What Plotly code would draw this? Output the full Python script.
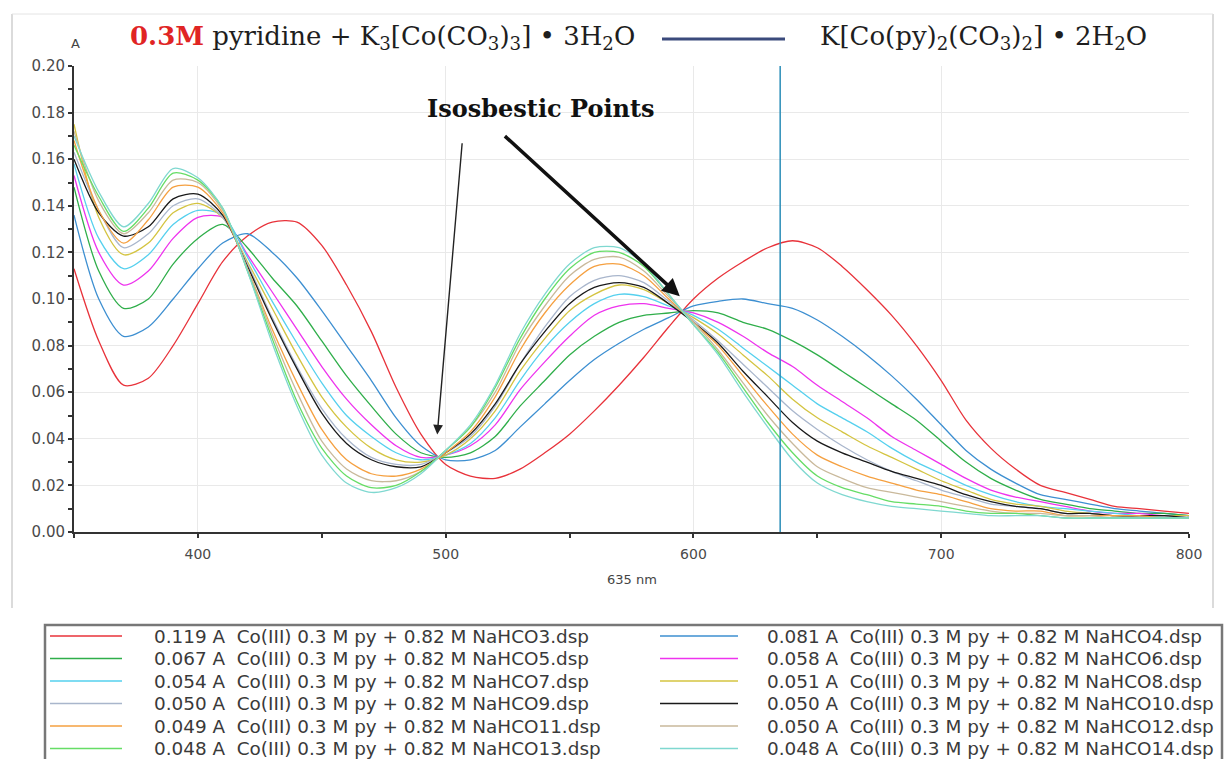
import plotly.graph_objects as go

# Wavelength grid (nm) of the sampled spectra
wavelength_nm = [350, 360, 370, 380, 390, 400, 410, 420, 430, 440, 450, 460, 470, 480, 490, 500,
                 510, 520, 530, 540, 550, 560, 570, 580, 590, 600, 610, 620, 630, 640, 650, 660,
                 670, 680, 690, 700, 710, 720, 730, 740, 750, 760, 770, 780, 790, 800]

# Absorbance of each scan (A)
abs_nahco3 = [0.113, 0.082, 0.063, 0.066, 0.080, 0.098, 0.116, 0.127, 0.133, 0.133, 0.123, 0.106, 0.086, 0.062, 0.042, 0.029,
              0.024, 0.023, 0.027, 0.034, 0.042, 0.052, 0.063, 0.075, 0.088, 0.100, 0.109, 0.116, 0.122, 0.125, 0.122, 0.114,
              0.104, 0.093, 0.080, 0.065, 0.048, 0.036, 0.027, 0.020, 0.017, 0.014, 0.011, 0.010, 0.009, 0.008]
abs_nahco4 = [0.136, 0.100, 0.084, 0.088, 0.100, 0.113, 0.124, 0.128, 0.120, 0.109, 0.095, 0.080, 0.065, 0.049, 0.037, 0.031,
              0.031, 0.035, 0.045, 0.055, 0.065, 0.074, 0.081, 0.087, 0.092, 0.097, 0.099, 0.100, 0.098, 0.096, 0.091, 0.084,
              0.076, 0.067, 0.057, 0.046, 0.035, 0.027, 0.021, 0.016, 0.014, 0.012, 0.010, 0.009, 0.008, 0.007]
abs_nahco5 = [0.148, 0.112, 0.096, 0.100, 0.115, 0.126, 0.132, 0.122, 0.109, 0.097, 0.082, 0.067, 0.054, 0.042, 0.034, 0.032,
              0.034, 0.041, 0.054, 0.065, 0.076, 0.084, 0.090, 0.093, 0.094, 0.095, 0.094, 0.090, 0.087, 0.082, 0.076, 0.069,
              0.062, 0.055, 0.048, 0.039, 0.030, 0.023, 0.018, 0.014, 0.012, 0.010, 0.009, 0.008, 0.008, 0.007]
abs_nahco6 = [0.153, 0.120, 0.106, 0.112, 0.126, 0.135, 0.135, 0.119, 0.103, 0.087, 0.071, 0.057, 0.046, 0.037, 0.032, 0.033,
              0.037, 0.046, 0.061, 0.073, 0.084, 0.093, 0.097, 0.098, 0.096, 0.094, 0.090, 0.084, 0.077, 0.071, 0.063, 0.056,
              0.049, 0.041, 0.035, 0.029, 0.023, 0.018, 0.015, 0.013, 0.011, 0.009, 0.008, 0.008, 0.007, 0.007]
abs_nahco7 = [0.158, 0.126, 0.113, 0.119, 0.132, 0.138, 0.136, 0.118, 0.099, 0.081, 0.064, 0.050, 0.041, 0.034, 0.031, 0.033,
              0.038, 0.049, 0.065, 0.079, 0.090, 0.098, 0.102, 0.101, 0.097, 0.093, 0.087, 0.079, 0.071, 0.063, 0.055, 0.049,
              0.043, 0.036, 0.030, 0.025, 0.020, 0.016, 0.013, 0.011, 0.010, 0.009, 0.008, 0.007, 0.007, 0.007]
abs_nahco8 = [0.175, 0.135, 0.119, 0.124, 0.137, 0.141, 0.135, 0.116, 0.096, 0.076, 0.058, 0.045, 0.036, 0.031, 0.030, 0.033,
              0.040, 0.052, 0.069, 0.083, 0.095, 0.102, 0.106, 0.104, 0.098, 0.092, 0.085, 0.076, 0.067, 0.057, 0.049, 0.043,
              0.037, 0.032, 0.027, 0.022, 0.018, 0.014, 0.012, 0.011, 0.009, 0.008, 0.007, 0.007, 0.007, 0.007]
abs_nahco9 = [0.163, 0.138, 0.122, 0.128, 0.140, 0.143, 0.135, 0.115, 0.092, 0.071, 0.053, 0.040, 0.032, 0.029, 0.029, 0.034,
              0.041, 0.054, 0.072, 0.088, 0.101, 0.108, 0.110, 0.107, 0.099, 0.091, 0.082, 0.072, 0.062, 0.052, 0.044, 0.037,
              0.031, 0.026, 0.022, 0.018, 0.015, 0.012, 0.011, 0.010, 0.008, 0.008, 0.007, 0.007, 0.007, 0.006]
abs_nahco10 = [0.160, 0.137, 0.127, 0.131, 0.143, 0.145, 0.136, 0.114, 0.091, 0.070, 0.051, 0.038, 0.031, 0.028, 0.028, 0.034,
               0.042, 0.055, 0.072, 0.086, 0.098, 0.105, 0.107, 0.105, 0.098, 0.090, 0.081, 0.069, 0.058, 0.047, 0.039, 0.034,
               0.030, 0.026, 0.023, 0.020, 0.016, 0.013, 0.011, 0.010, 0.008, 0.008, 0.007, 0.007, 0.007, 0.006]
abs_nahco11 = [0.168, 0.138, 0.124, 0.134, 0.148, 0.148, 0.137, 0.113, 0.087, 0.064, 0.044, 0.031, 0.025, 0.024, 0.027, 0.034,
               0.043, 0.058, 0.078, 0.094, 0.106, 0.114, 0.115, 0.110, 0.100, 0.090, 0.080, 0.067, 0.054, 0.042, 0.033, 0.028,
               0.024, 0.021, 0.018, 0.016, 0.013, 0.010, 0.009, 0.009, 0.007, 0.007, 0.007, 0.007, 0.006, 0.006]
abs_nahco12 = [0.172, 0.142, 0.128, 0.137, 0.151, 0.150, 0.138, 0.113, 0.085, 0.060, 0.039, 0.027, 0.022, 0.022, 0.026, 0.035,
               0.045, 0.060, 0.081, 0.097, 0.110, 0.117, 0.118, 0.112, 0.101, 0.090, 0.078, 0.064, 0.050, 0.038, 0.028, 0.023,
               0.019, 0.017, 0.015, 0.013, 0.011, 0.009, 0.008, 0.008, 0.007, 0.007, 0.006, 0.006, 0.006, 0.006]
abs_nahco13 = [0.166, 0.144, 0.129, 0.139, 0.154, 0.151, 0.139, 0.112, 0.083, 0.056, 0.036, 0.024, 0.019, 0.020, 0.026, 0.035,
               0.045, 0.062, 0.083, 0.100, 0.113, 0.120, 0.120, 0.114, 0.102, 0.089, 0.077, 0.062, 0.047, 0.034, 0.024, 0.019,
               0.016, 0.013, 0.012, 0.011, 0.009, 0.008, 0.008, 0.007, 0.006, 0.006, 0.006, 0.006, 0.006, 0.006]
abs_nahco14 = [0.170, 0.146, 0.131, 0.141, 0.156, 0.152, 0.139, 0.112, 0.081, 0.054, 0.033, 0.021, 0.017, 0.019, 0.025, 0.035,
               0.046, 0.063, 0.085, 0.102, 0.115, 0.122, 0.122, 0.115, 0.102, 0.089, 0.076, 0.060, 0.045, 0.031, 0.021, 0.016,
               0.013, 0.011, 0.010, 0.009, 0.008, 0.007, 0.007, 0.007, 0.006, 0.006, 0.006, 0.006, 0.006, 0.006]

# Scan file names and the cursor readings shown next to them
scan_files = ["NaHCO3.dsp", "NaHCO4.dsp", "NaHCO5.dsp", "NaHCO6.dsp", "NaHCO7.dsp", "NaHCO8.dsp",
              "NaHCO9.dsp", "NaHCO10.dsp", "NaHCO11.dsp", "NaHCO12.dsp", "NaHCO13.dsp", "NaHCO14.dsp"]
cursor_readings = [0.119, 0.081, 0.067, 0.058, 0.054, 0.051, 0.050, 0.050, 0.049, 0.050, 0.048, 0.048]
sample_prefix = "Co(III) 0.3 M py + 0.82 M "
cursor_nm = 635

# Axis ticks
y_ticks = [0.00, 0.02, 0.04, 0.06, 0.08, 0.10, 0.12, 0.14, 0.16, 0.18, 0.20]
x_ticks = [400, 500, 600, 700, 800]

scan_colors = ["#e8323a", "#3d8fd1", "#2fae4a", "#ee33ee", "#55d0ee", "#d4c441",
               "#a9b6cc", "#1a1a1a", "#f5a040", "#c9b99b", "#66dd66", "#7fd8d0"]

spectra = [abs_nahco3, abs_nahco4, abs_nahco5, abs_nahco6, abs_nahco7, abs_nahco8,
           abs_nahco9, abs_nahco10, abs_nahco11, abs_nahco12, abs_nahco13, abs_nahco14]

# Plot-area geometry in pixels (used to place paper-anchored decorations)
W, H = 1225, 759
L, R, T, B = 74, 36, 66, 227
PW, PH = W - L - R, H - T - B


def px_x(px):
    return (px - L) / PW


def px_y(py):
    return (H - B - py) / PH


fig = go.Figure()

for values, color, fname in zip(spectra, scan_colors, scan_files):
    fig.add_trace(go.Scatter(
        x=wavelength_nm, y=values, mode="lines", name=fname,
        line=dict(color=color, width=1.3, shape="spline", smoothing=0.8),
        showlegend=False, hoverinfo="x+y+name",
    ))

shapes = []
annotations = []

# cursor line at 635 nm
shapes.append(dict(type="line", xref="x", yref="y", x0=cursor_nm, x1=cursor_nm, y0=0, y1=0.2,
                   line=dict(color="#2a8db8", width=1.5)))

# outer panel frame
frame_col = "#cfcfcf"
shapes.append(dict(type="line", xref="paper", yref="paper", x0=px_x(12), x1=px_x(12),
                   y0=px_y(14), y1=px_y(608), line=dict(color=frame_col, width=1.5)))
shapes.append(dict(type="line", xref="paper", yref="paper", x0=px_x(1213), x1=px_x(1213),
                   y0=px_y(14), y1=px_y(608), line=dict(color=frame_col, width=1.5)))
shapes.append(dict(type="line", xref="paper", yref="paper", x0=px_x(12), x1=px_x(1213),
                   y0=px_y(14), y1=px_y(14), line=dict(color="#e4e4e4", width=1)))

# header: reaction scheme
annotations.append(dict(
    xref="paper", yref="paper", x=px_x(128), y=px_y(38), xanchor="left", yanchor="middle",
    text="<b><span style='color:#e02424'>0.3M</span></b> pyridine + K<sub>3</sub>[Co(CO<sub>3</sub>)<sub>3</sub>] • 3H<sub>2</sub>O",
    showarrow=False, font=dict(family="DejaVu Serif", size=26, color="#1e1e1e")))
shapes.append(dict(type="line", xref="paper", yref="paper", x0=px_x(662), x1=px_x(785),
                   y0=px_y(39), y1=px_y(39), line=dict(color="#3b4a7c", width=3)))
annotations.append(dict(
    xref="paper", yref="paper", x=px_x(818), y=px_y(38), xanchor="left", yanchor="middle",
    text="K[Co(py)<sub>2</sub>(CO<sub>3</sub>)<sub>2</sub>] • 2H<sub>2</sub>O",
    showarrow=False, font=dict(family="DejaVu Serif", size=26, color="#1e1e1e")))

# y-axis unit label
annotations.append(dict(xref="paper", yref="paper", x=px_x(75), y=px_y(43), text="A",
                        xanchor="center", yanchor="middle",
                        showarrow=False, font=dict(family="DejaVu Sans", size=13, color="#444")))

# cursor readout under the x axis
annotations.append(dict(xref="paper", yref="paper", x=px_x(632), y=px_y(579), text="635 nm",
                        xanchor="center", yanchor="middle",
                        showarrow=False, font=dict(family="DejaVu Sans", size=13, color="#444")))

# isosbestic points callout
annotations.append(dict(xref="paper", yref="paper", x=px_x(541), y=px_y(108), text="<b>Isosbestic Points</b>",
                        xanchor="center", yanchor="middle",
                        showarrow=False, font=dict(family="DejaVu Serif", size=24, color="#111")))
annotations.append(dict(xref="x", yref="y", axref="x", ayref="y",
                        x=496.6, y=0.0418, ax=506.7, ay=0.1675, text="", showarrow=True,
                        arrowhead=2, arrowsize=1.4, arrowwidth=1.4, arrowcolor="#222"))
annotations.append(dict(xref="x", yref="y", axref="x", ayref="y",
                        x=594.5, y=0.1012, ax=523.3, ay=0.1705, text="", showarrow=True,
                        arrowhead=2, arrowsize=1.0, arrowwidth=3.5, arrowcolor="#111"))

# legend box with scan list
shapes.append(dict(type="rect", xref="paper", yref="paper", x0=px_x(45), x1=px_x(1222),
                   y0=px_y(625), y1=px_y(775), line=dict(color="#777", width=2.5)))
row_y = [636, 658.5, 681, 703.5, 726, 748.5]
col_line = [(50, 122), (660, 738)]
col_text = [152, 765]
for i, (fname, reading, color) in enumerate(zip(scan_files, cursor_readings, scan_colors)):
    col, row = i % 2, i // 2
    yy = px_y(row_y[row])
    shapes.append(dict(type="line", xref="paper", yref="paper",
                       x0=px_x(col_line[col][0]), x1=px_x(col_line[col][1]), y0=yy, y1=yy,
                       line=dict(color=color, width=1.6)))
    annotations.append(dict(xref="paper", yref="paper", x=px_x(col_text[col]), y=yy,
                            xanchor="left", yanchor="middle",
                            text=f"{reading:.3f} A\u00a0\u00a0{sample_prefix}{fname}", showarrow=False,
                            font=dict(family="DejaVu Sans", size=18.4, color="#3a3a3a")))

fig.update_layout(
    width=W, height=H,
    margin=dict(l=L, r=R, t=T, b=B, autoexpand=False),
    paper_bgcolor="white", plot_bgcolor="white",
    shapes=shapes, annotations=annotations,
    showlegend=False,
    xaxis=dict(range=[350, 800], tickvals=x_ticks, ticktext=[str(v) for v in x_ticks],
               showgrid=True, gridcolor="#e9e9e9", gridwidth=1,
               showline=True, linecolor="#333", linewidth=2,
               ticks="outside", ticklen=4, tickcolor="#333", tickwidth=1.5,
               minor=dict(tickvals=[350, 450, 550, 650, 750], ticks="outside", ticklen=4,
                          tickcolor="#333", showgrid=False),
               tickfont=dict(family="DejaVu Sans", size=14, color="#4a4a4a"),
               ticklabelstandoff=4, zeroline=False),
    yaxis=dict(range=[0, 0.2], tickvals=y_ticks, ticktext=[f"{v:.2f}" for v in y_ticks],
               showgrid=True, gridcolor="#e9e9e9", gridwidth=1,
               showline=True, linecolor="#333", linewidth=2,
               ticks="outside", ticklen=4, tickcolor="#333", tickwidth=1.5,
               minor=dict(dtick=0.01, ticks="outside", ticklen=4, tickcolor="#333", showgrid=False),
               tickfont=dict(family="DejaVu Sans", size=15, color="#4a4a4a"),
               ticklabelstandoff=0, zeroline=False),
)

fig.write_html("out.html")
